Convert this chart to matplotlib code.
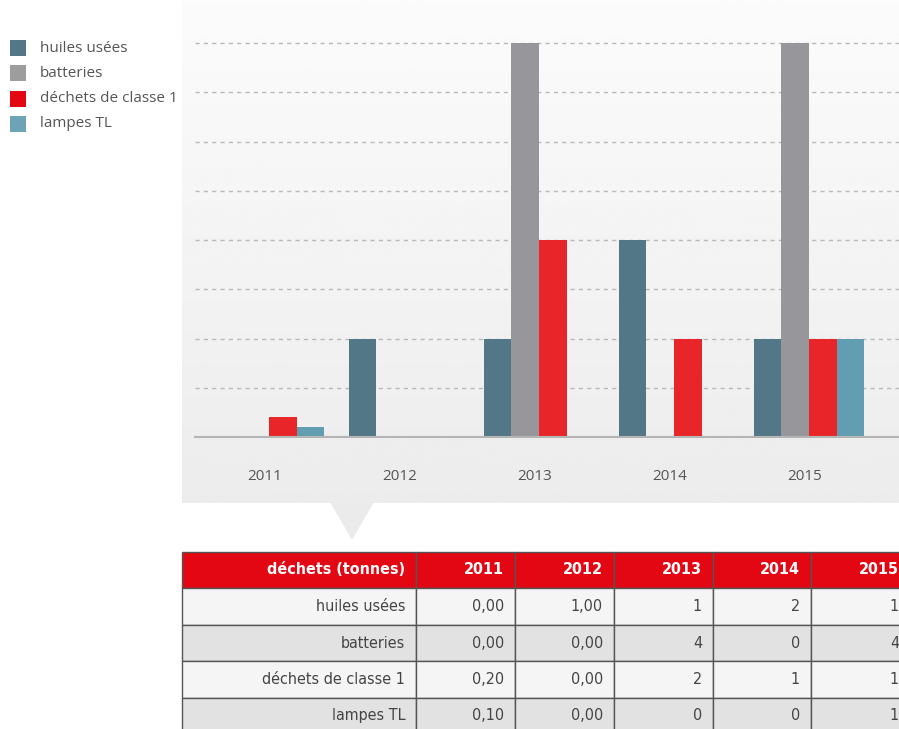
import numpy as np
import matplotlib.pyplot as plt
from matplotlib.patches import Rectangle, Polygon

# data
years = ['2011', '2012', '2013', '2014', '2015']
series = ['huiles usées', 'batteries', 'déchets de classe 1', 'lampes TL']
huiles = [0.0, 1.0, 1, 2, 1]
batteries = [0.0, 0.0, 4, 0, 4]
dechets = [0.2, 0.0, 2, 1, 1]
lampes = [0.1, 0.0, 0, 0, 1]
values = [huiles, batteries, dechets, lampes]
decimals = [2, 2, 0, 0, 0]  # how the table prints each year column

bar_colors = ['#527888', '#97979b', '#e8262a', '#639db2']
legend_colors = ['#527888', '#9d9d9d', '#e30613', '#6ea3b6']

W, H = 899, 729


def fx(x):
    return x / W


def fy(y):
    return 1 - y / H


def main():
    fig = plt.figure(figsize=(W / 100, H / 100), dpi=100)
    fig.patch.set_facecolor('white')

    # gray gradient panel behind the chart
    bg = fig.add_axes([fx(182), fy(503), fx(899 - 182), 503 / H], zorder=0)
    grad = np.linspace(0.985, 0.925, 256)[:, None]
    bg.imshow(np.repeat(grad, 2, axis=1), cmap='gray', vmin=0, vmax=1,
              aspect='auto', extent=[0, 1, 0, 1])
    bg.set_axis_off()
    fig.patches.append(Polygon([[fx(330), fy(502)], [fx(374), fy(502)], [fx(352), fy(540)]],
                               closed=True, transform=fig.transFigure,
                               facecolor='#ebebeb', edgecolor='none', zorder=1))

    ax = fig.add_axes([fx(195), fy(437), fx(899 - 195), 437 / H], zorder=2)
    ax.patch.set_alpha(0)
    unit = 98.5
    ax.set_xlim(-0.548, 4.667)
    ax.set_ylim(0, 437 / unit)

    x = np.arange(len(years))
    w = 0.205
    for i, vals in enumerate(values):
        ax.bar(x + (i - 1.5) * w, vals, width=w, color=bar_colors[i], zorder=3)

    for g in np.arange(0.5, 4.01, 0.5):
        ax.axhline(g, color='#b9b9b9', lw=1, ls=(0, (3, 3)), zorder=1)
    ax.axhline(0, color='#b5b5b5', lw=1.5, zorder=4, clip_on=False)

    for s in ax.spines.values():
        s.set_visible(False)
    ax.set_yticks([])
    ax.set_xticks([])
    for i, yr in enumerate(years):
        ax.text(i - 0.03, -39 / unit, yr, ha='center', va='center',
                fontsize=11, color='#555555', family=['Open Sans', 'DejaVu Sans'],
                clip_on=False)

    # legend
    for i, name in enumerate(series):
        yc = 48 + i * 25.3
        fig.patches.append(Rectangle((fx(10), fy(yc + 8)), fx(16), 16 / H,
                                     transform=fig.transFigure,
                                     facecolor=legend_colors[i], edgecolor='none'))
        fig.text(fx(40), fy(yc), name, ha='left', va='center', fontsize=11,
                 color='#555555', family=['Open Sans', 'DejaVu Sans'])

    # table
    col_edges = [182, 416, 515, 614, 713, 811, 910]
    row_edges = [552, 588, 625, 661, 698, 735]
    for r in range(len(row_edges) - 1):
        y0, y1 = row_edges[r], row_edges[r + 1]
        if r == 0:
            face = '#e30613'
        elif r % 2 == 1:
            face = '#f5f5f5'
        else:
            face = '#e2e2e2'
        for c in range(len(col_edges) - 1):
            x0, x1 = col_edges[c], col_edges[c + 1]
            fig.patches.append(Rectangle((fx(x0), fy(y1)), fx(x1 - x0), (y1 - y0) / H,
                                         transform=fig.transFigure, facecolor=face,
                                         edgecolor='#555555', lw=1))
            if r == 0:
                txt = 'déchets (tonnes)' if c == 0 else years[c - 1]
                color, weight = 'white', 'bold'
            else:
                if c == 0:
                    txt = series[r - 1]
                else:
                    v = values[r - 1][c - 1]
                    txt = f'{v:.{decimals[c - 1]}f}'.replace('.', ',')
                color, weight = '#444444', 'normal'
            yc = (y0 + y1) / 2 if r < 4 else (y0 + 729) / 2 + 2
            fig.text(fx(x1 - 11), fy(yc), txt, ha='right', va='center',
                     fontsize=11.5, color=color, fontweight=weight,
                     family='DejaVu Sans', fontstretch='condensed')

    fig.savefig('out.png', dpi=100)


if __name__ == '__main__':
    main()
